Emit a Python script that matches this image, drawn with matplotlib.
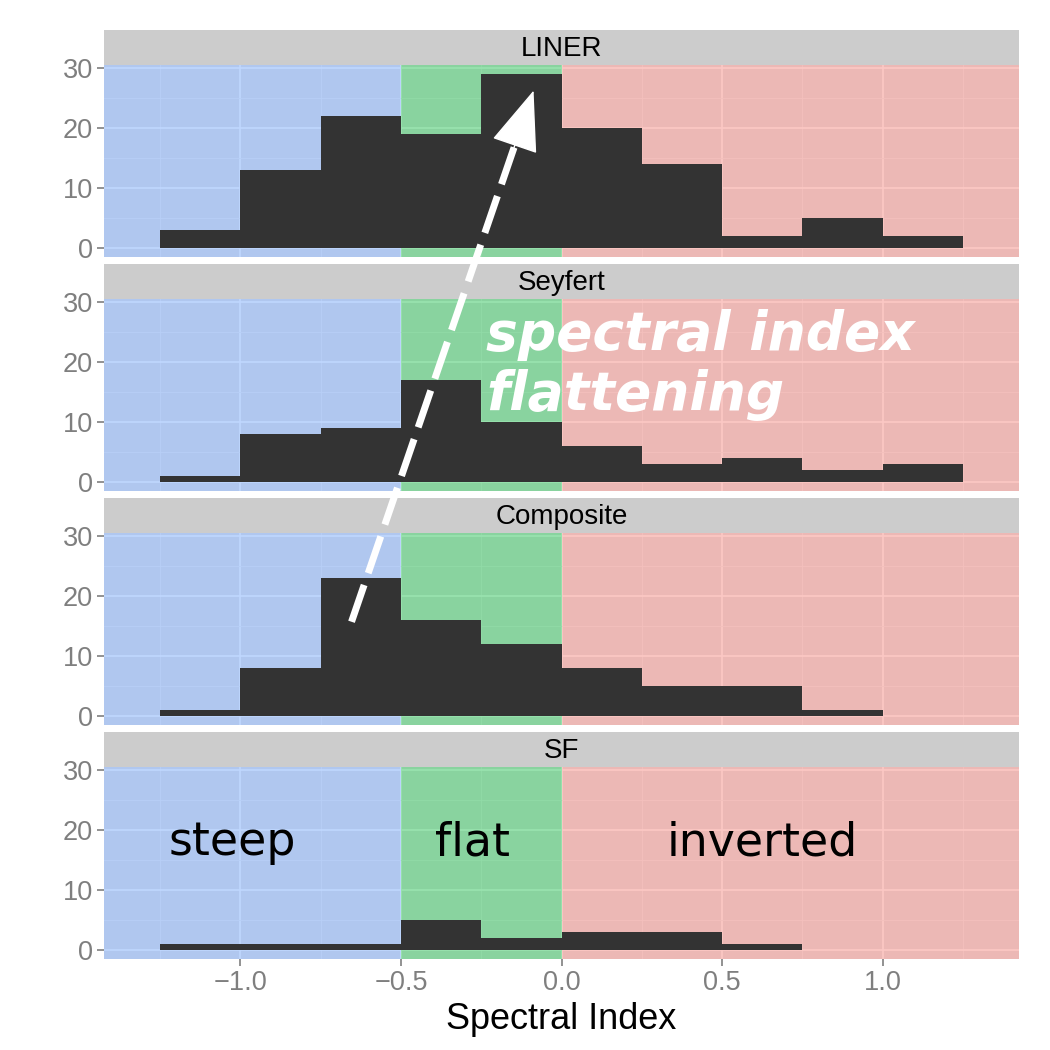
import numpy as np
import matplotlib.pyplot as plt
from matplotlib.patches import FancyArrowPatch

plt.rcParams['font.family'] = ['Liberation Sans', 'DejaVu Sans']

# data: counts per 0.25-wide bin of spectral index
facets = ['LINER', 'Seyfert', 'Composite', 'SF']
bin_edges = [-1.25, -1.0, -0.75, -0.5, -0.25, 0.0, 0.25, 0.5, 0.75, 1.0, 1.25]
liner = [3, 13, 22, 19, 29, 20, 14, 2, 5, 2]
seyfert = [1, 8, 9, 17, 10, 6, 3, 4, 2, 3]
composite = [1, 8, 23, 16, 12, 8, 5, 5, 1, 0]
sf = [1, 1, 1, 5, 2, 3, 3, 1, 0, 0]
all_counts = [liner, seyfert, composite, sf]

# spectral index classes
regions = ['steep', 'flat', 'inverted']
region_bounds = [(-5, -0.5), (-0.5, 0.0), (0.0, 5)]
region_cols = ['#619CFF', '#00BA38', '#F8766D']
region_label_x = [-1.025, -0.276, 0.625]

xticks = [-1.0, -0.5, 0.0, 0.5, 1.0]
xticklabels = ['\u22121.0', '\u22120.5', '0.0', '0.5', '1.0']
yticks = [0, 10, 20, 30]

W = H = 1050
fig = plt.figure(figsize=(10.5, 10.5), dpi=100)

left, right = 104, 1019
panel_h, strip_h, step = 192, 35, 234
axes = []
for i, name in enumerate(facets):
    top = 65 + step * i
    ax = fig.add_axes([left / W, 1 - (top + panel_h) / H, (right - left) / W, panel_h / H])
    sax = fig.add_axes([left / W, 1 - top / H, (right - left) / W, strip_h / H])
    sax.set_facecolor('#CCCCCC')
    sax.set_xticks([])
    sax.set_yticks([])
    for s in sax.spines.values():
        s.set_visible(False)
    sax.text(0.5, 0.45, name, ha='center', va='center', fontsize=20, color='black',
             transform=sax.transAxes)

    ax.set_facecolor('#E5E5E5')
    for s in ax.spines.values():
        s.set_visible(False)
    ax.set_xlim(-1.425, 1.425)
    ax.set_ylim(-1.45, 30.45)
    ax.set_xticks(xticks)
    ax.set_xticks([-1.25, -0.75, -0.25, 0.25, 0.75, 1.25], minor=True)
    ax.set_yticks(yticks)
    ax.set_yticks([5, 15, 25], minor=True)
    ax.set_axisbelow(True)
    ax.grid(which='major', color='white', lw=1.2)
    ax.grid(which='minor', color='#F2F2F2', lw=0.6)
    ax.tick_params(which='minor', length=0)
    ax.tick_params(which='major', length=5, width=1.2, color='#7F7F7F',
                   labelcolor='#7F7F7F', labelsize=19.5, pad=3)

    for (a, b), c in zip(region_bounds, region_cols):
        ax.axvspan(a, b, color=c, alpha=0.4, lw=0, zorder=1)

    ax.bar(bin_edges[:-1], all_counts[i], width=0.25, align='edge',
           color='#333333', lw=0, zorder=2)

    if i < 3:
        ax.tick_params(axis='x', which='major', length=0, labelbottom=False)
    else:
        ax.set_xticklabels(xticklabels)
        ax.set_xlabel('Spectral Index', fontsize=26, labelpad=4)
    axes.append(ax)

# class labels in the SF panel
for lab, xl in zip(regions, region_label_x):
    axes[3].text(xl, 15.8, lab, ha='center', va='baseline', fontsize=33,
                 family='DejaVu Sans', color='black', zorder=5)

axes[1].text(-0.235, 19.5, 'spectral index\nflattening', ha='left', va='center',
             fontsize=38.5, family='DejaVu Sans', fontweight='bold', style='oblique',
             color='white', linespacing=1.2, zorder=5)

# dashed arrow from Composite up to LINER
tail = (-0.654, 15.7)
tip = (-0.087, 26.2)
to_fig = fig.transFigure.inverted()
p0 = np.array(to_fig.transform(axes[2].transData.transform(tail)))
p1 = np.array(to_fig.transform(axes[0].transData.transform(tip)))
shaft = FancyArrowPatch(p0, p1, transform=fig.transFigure, arrowstyle='-',
                        color='white', lw=5, linestyle=(0, (5.6, 1.8)),
                        capstyle='butt', shrinkA=0, shrinkB=30, zorder=10)
fig.add_artist(shaft)
pb = p1 - 0.12 * (p1 - p0)
head = FancyArrowPatch(pb, p1, transform=fig.transFigure,
                       arrowstyle='-|>,head_length=2.0,head_width=0.78',
                       mutation_scale=20, color='white', lw=1, shrinkA=0, shrinkB=0,
                       zorder=11)
fig.add_artist(head)

fig.savefig('out.png', dpi=100)
